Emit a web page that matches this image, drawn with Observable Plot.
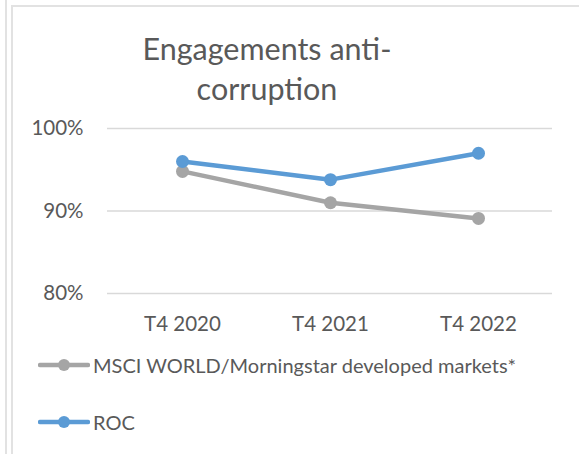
<!DOCTYPE html>
<html>
<head>
<meta charset="utf-8">
<script src="https://cdn.jsdelivr.net/npm/d3@7"></script>
<script src="https://cdn.jsdelivr.net/npm/@observablehq/plot@0.6"></script>
<style>
  html, body { margin: 0; padding: 0; background: #fff; }
  body { width: 579px; height: 454px; position: relative; overflow: hidden; font-family: Lato, "Noto Sans", sans-serif; color: #595959; }
  .bl { position: absolute; background: #e2e2e2; }
  #title { position: absolute; left: 67px; width: 400px; top: 28px; text-align: center; font-size: 30.5px; line-height: 40px; color: #595959; }
  #chart { position: absolute; left: 0; top: 0; }
  .leg { position: absolute; left: 38px; display: flex; align-items: center; font-size: 20px; color: #595959; white-space: nowrap; }
  .leg svg { margin-right: 3px; }
</style>
</head>
<body>
<div class="bl" style="left:5px;top:0;width:2px;height:454px"></div>
<div class="bl" style="left:11px;top:5px;width:2px;height:449px"></div>
<div class="bl" style="left:11px;top:5px;width:568px;height:2px"></div>
<div id="title">Engagements anti-<br>corruption</div>
<div id="chart"></div>
<div id="legend"></div>
<script>
const categories = ["T4 2020", "T4 2021", "T4 2022"];
const seriesNames = ["MSCI WORLD/Morningstar developed markets*", "ROC"];
const msciValues = [94.8, 91.0, 89.1];
const rocValues = [96.0, 93.8, 97.0];
const seriesColors = ["#a5a5a5", "#5b9bd5"];
const yTicks = [80, 90, 100];

const data = [];
categories.forEach((c, i) => {
  data.push({cat: c, series: seriesNames[0], value: msciValues[i]});
  data.push({cat: c, series: seriesNames[1], value: rocValues[i]});
});

const chart = Plot.plot({
  width: 579,
  height: 345,
  marginTop: 128,
  marginBottom: 52,
  marginLeft: 107,
  marginRight: 27,
  style: {fontFamily: "Lato, 'Noto Sans', sans-serif", fontSize: "20.5px", color: "#595959", background: "transparent", overflow: "visible"},
  x: {type: "band", domain: categories, padding: 0, label: null, tickSize: 0, tickPadding: 23},
  y: {domain: [80, 100], ticks: yTicks, tickFormat: d => d + "%", label: null, tickSize: 0, tickPadding: 24},
  color: {domain: seriesNames, range: seriesColors},
  marks: [
    Plot.gridY(yTicks, {stroke: "#d9d9d9", strokeOpacity: 1, strokeWidth: 1.5}),
    Plot.line(data, {x: "cat", y: "value", z: "series", stroke: "series", strokeWidth: 4.5, strokeLinecap: "round", strokeLinejoin: "round"}),
    Plot.dot(data, {x: "cat", y: "value", fill: "series", r: 6.5})
  ]
});
document.getElementById("chart").appendChild(chart);

const legend = document.getElementById("legend");
const legTops = [365, 422];
seriesNames.forEach((name, i) => {
  const d = document.createElement("div");
  d.className = "leg";
  d.style.top = (legTops[i] - 12) + "px";
  d.style.height = "24px";
  d.innerHTML = `<svg width="52" height="16"><line x1="2" y1="8" x2="50" y2="8" stroke="${seriesColors[i]}" stroke-width="4.5" stroke-linecap="round"/><circle cx="26" cy="8" r="6" fill="${seriesColors[i]}"/></svg><span>${name}</span>`;
  legend.appendChild(d);
});
</script>
</body>
</html>
